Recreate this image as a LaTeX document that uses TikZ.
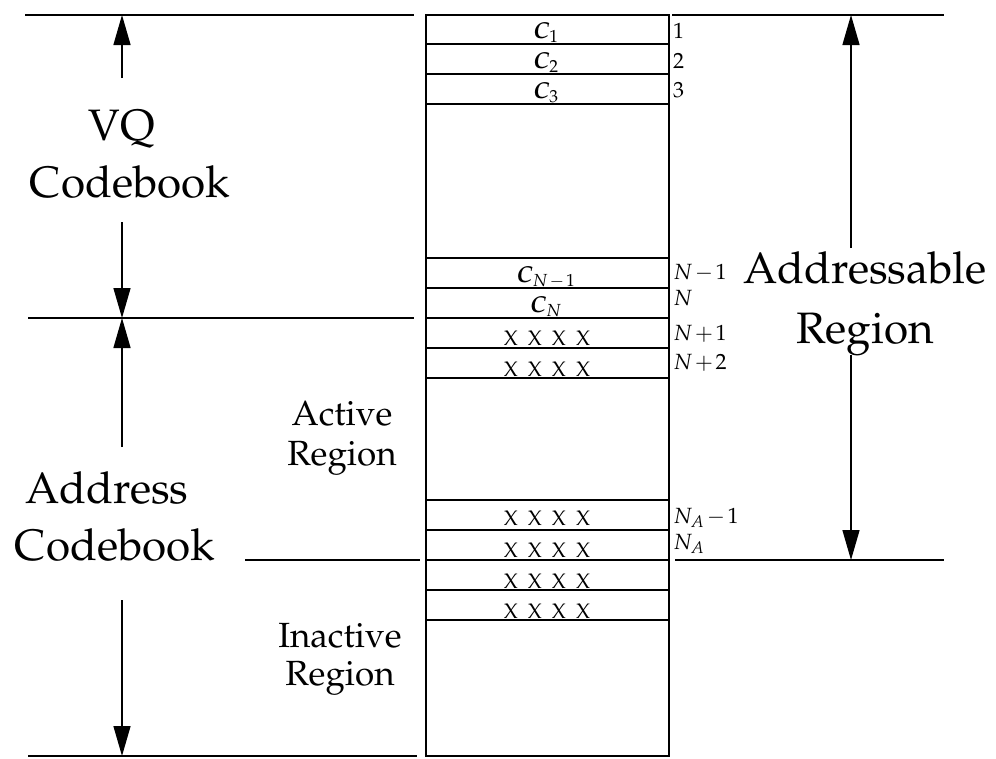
\documentclass[tikz,border=0pt]{standalone}
\usepackage[T1]{fontenc}
\usepackage{mathpazo}
\usetikzlibrary{arrows.meta}
\begin{document}
\begin{tikzpicture}[x=1pt,y=-1pt,
  rule/.style={line width=2.1pt},
  wall/.style={line width=2.8pt},
  dim/.style={line width=1.4pt,-{Triangle[length=30pt,width=17pt]}},
  big/.style={font=\fontsize{44}{50}\selectfont, inner sep=0pt, anchor=base},
  mid/.style={font=\fontsize{35}{40}\selectfont, inner sep=0pt, anchor=base},
  idx/.style={font=\fontsize{22}{24}\selectfont, inner sep=0pt, anchor=base west},
  cell/.style={font=\fontsize{23}{24}\selectfont, inner sep=0pt, anchor=base},
  xs/.style={font=\fontsize{21}{22}\selectfont, inner sep=0pt, anchor=base},
]
\useasboundingbox (0,0) rectangle (996,758);

% memory column and its slots
\draw[wall] (426,15) rectangle (669,756);
\foreach \y in {44,74,104,258,288,318,348,378,500,530,560,590,620}
  \draw[rule] (426,\y) -- (669,\y);

% boundary guide lines
\coordinate (lTop) at (25,15);    \coordinate (lTopE) at (414,15);
\coordinate (rTop) at (672,15);   \coordinate (rTopE) at (944,15);
\coordinate (lMid) at (28,318);   \coordinate (lMidE) at (414,318);
\coordinate (lLow) at (245,560);  \coordinate (lLowE) at (420,560);
\coordinate (rLow) at (675,560);  \coordinate (rLowE) at (944,560);
\coordinate (lBot) at (28,756);   \coordinate (lBotE) at (417,756);
\draw[rule] (lTop) -- (lTopE);
\draw[rule] (rTop) -- (rTopE);
\draw[rule] (lMid) -- (lMidE);
\draw[rule] (lLow) -- (lLowE);
\draw[rule] (rLow) -- (rLowE);
\draw[rule] (lBot) -- (lBotE);

% slot contents
\newcommand{\cw}{\textbf{\textit{C}}}
\newcommand{\op}[1]{\mskip2mu{#1}\mskip2mu}
\node[cell] (c1)  at (546,38)  {$\cw_{1}$};
\node[cell] (c2)  at (546,68)  {$\cw_{2}$};
\node[cell] (c3)  at (546,98)  {$\cw_{3}$};
\node[cell] (cn1) at (546,282) {$\cw_{N\op{-}1}$};
\node[cell] (cn)  at (546,312) {$\cw_{N}$};
\newcommand{\xrow}{X\hspace{10pt}X\hspace{10pt}X\hspace{10pt}X}
\node[xs] (x1) at (547,345) {\xrow};
\node[xs] (x2) at (547,376) {\xrow};
\node[xs] (x3) at (547,525) {\xrow};
\node[xs] (x4) at (547,557) {\xrow};
\node[xs] (x5) at (547,588) {\xrow};
\node[xs] (x6) at (547,618) {\xrow};

% slot indices
\node[idx] (i1)  at (673,38)  {1};
\node[idx] (i2)  at (673,68)  {2};
\node[idx] (i3)  at (673,97)  {3};
\node[idx] (in1) at (673,279) {$N\op{-}1$};
\node[idx] (in)  at (673,305) {$N$};
\node[idx] (ip1) at (673,340) {$N\op{+}1$};
\node[idx] (ip2) at (673,369) {$N\op{+}2$};
\node[idx] (ia1) at (673,523) {$N_{A}\op{-}1$};
\node[idx] (ia)  at (673,549) {$N_{A}$};

% region labels
\node[big] (vq)   at (122,140) {VQ};
\node[big] (vqcb) at (130,197) {Codebook};
\node[big] (ad)   at (107,503) {Address};
\node[big] (adcb) at (115,560) {Codebook};
\node[mid] (act)  at (342,425) {Active};
\node[mid] (actr) at (342,465) {Region};
\node[mid] (ina)  at (340,647) {Inactive};
\node[mid] (inar) at (340,685) {Region};
\node[big] (adr)  at (865,283) {Addressable};
\node[big] (adrr) at (865,343) {Region};

% extent arrows
\coordinate (vqUp)  at (122,78);  \coordinate (vqTip)  at (122,15);
\coordinate (vqDn)  at (122,222); \coordinate (vqBot)  at (122,318);
\coordinate (adUp)  at (122,447); \coordinate (adTip)  at (122,318);
\coordinate (adDn)  at (122,600); \coordinate (adBot)  at (122,756);
\coordinate (arUp)  at (851,248); \coordinate (arTip)  at (851,15);
\coordinate (arDn)  at (851,355); \coordinate (arBot)  at (851,560);
\draw[dim] (vqUp) -- (vqTip);
\draw[dim] (vqDn) -- (vqBot);
\draw[dim] (adUp) -- (adTip);
\draw[dim] (adDn) -- (adBot);
\draw[dim] (arUp) -- (arTip);
\draw[dim] (arDn) -- (arBot);
\end{tikzpicture}
\end{document}
